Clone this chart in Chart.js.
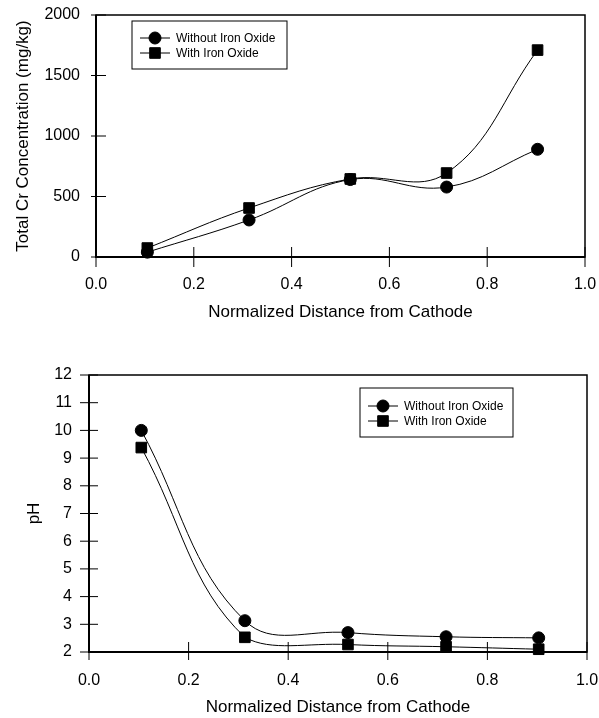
<!DOCTYPE html>
<html>
<head>
<meta charset="utf-8">
<script src="https://cdn.jsdelivr.net/npm/chart.js@4.4.1/dist/chart.umd.min.js"></script>
<style>
  body { margin: 0; background: #fff; }
  #wrap { position: relative; width: 599px; height: 718px; }
  .panel { position: absolute; left: 0; width: 599px; }
  #crPanel { top: 0; height: 330px; }
  #phPanel { top: 330px; height: 388px; }
</style>
</head>
<body>
<div id="wrap">
  <div class="panel" id="crPanel"><canvas id="crChart" width="599" height="330"></canvas></div>
  <div class="panel" id="phPanel"><canvas id="phChart" width="599" height="388"></canvas></div>
</div>
<script>
// values
const distances = [0.105, 0.313, 0.52, 0.717, 0.903];
const seriesNames = ['Without Iron Oxide', 'With Iron Oxide'];
const crWithout = [40, 306, 640, 578, 890];
const crWith = [74, 405, 645, 694, 1710];
const phWithout = [10.0, 3.13, 2.7, 2.55, 2.51];
const phWith = [9.38, 2.53, 2.27, 2.19, 2.1];
const xTitle = 'Normalized Distance from Cathode';

const FONT = "'Liberation Sans', Arial, sans-serif";
Chart.defaults.color = '#000';
Chart.defaults.font.family = FONT;

// box around the plot + tick marks that cross the axes
const frameTicks = {
    id: 'frameTicks',
    beforeDatasetsDraw(chart, args, opts) {
        const { ctx, chartArea: a } = chart;
        const xs = chart.scales.x, ys = chart.scales.y;
        ctx.save();
        ctx.strokeStyle = '#000';
        ctx.lineWidth = 1.5;
        ctx.strokeRect(a.left, a.top, a.right - a.left, a.bottom - a.top);
        ctx.lineWidth = 2;
        ctx.beginPath();
        ctx.moveTo(a.left, a.top);
        ctx.lineTo(a.left, a.bottom);
        ctx.lineTo(a.right, a.bottom);
        ctx.stroke();
        ctx.lineWidth = 1;
        ctx.beginPath();
        xs.ticks.forEach((t, i) => {
            const px = xs.getPixelForTick(i);
            ctx.moveTo(px, a.bottom - opts.xIn);
            ctx.lineTo(px, a.bottom + opts.xOut);
        });
        ys.ticks.forEach((t, i) => {
            const py = ys.getPixelForTick(i);
            ctx.moveTo(a.left - opts.yOut, py);
            ctx.lineTo(a.left + opts.yIn, py);
        });
        ctx.stroke();
        ctx.restore();
    }
};

// legend drawn as a framed box inside the plot
const boxLegend = {
    id: 'boxLegend',
    afterDraw(chart, args, opts) {
        const { ctx, chartArea: a } = chart;
        const x0 = a.left + opts.left, y0 = a.top + opts.top;
        ctx.save();
        ctx.fillStyle = '#fff';
        ctx.fillRect(x0, y0, opts.width, opts.height);
        ctx.strokeStyle = '#000';
        ctx.lineWidth = 1;
        ctx.strokeRect(x0, y0, opts.width, opts.height);
        const items = chart.data.datasets.filter(d => d.showInLegend);
        items.forEach((d, i) => {
            const y = y0 + opts.firstRow + i * opts.rowGap;
            ctx.strokeStyle = '#000';
            ctx.fillStyle = '#000';
            ctx.lineWidth = 1;
            ctx.beginPath();
            ctx.moveTo(x0 + 8, y);
            ctx.lineTo(x0 + 38, y);
            ctx.stroke();
            Chart.helpers.drawPoint(ctx, { pointStyle: d.pointStyle, radius: d.pointRadius, rotation: 0, borderWidth: 1 }, x0 + 23, y);
            ctx.font = '12px ' + FONT;
            ctx.textBaseline = 'middle';
            ctx.textAlign = 'left';
            ctx.fillText(d.label, x0 + 44, y + 1);
        });
        ctx.restore();
    }
};

const seriesDatasets = (label, values, style, radius) => {
    const pts = distances.map((x, i) => ({ x: x, y: values[i] }));
    return [
        { label: label, data: pts, borderColor: '#000', borderWidth: 1, pointRadius: 0, tension: 0.4, fill: false },
        { label: label, data: pts, showLine: false, pointStyle: style, pointRadius: radius,
          backgroundColor: '#000', borderColor: '#000', borderWidth: 1, clip: false, showInLegend: true }
    ];
};

const makeScales = (o) => ({
    x: {
        type: 'linear', min: 0, max: 1,
        afterFit: (s) => { s.height = o.xHeight; s.paddingLeft = 0; s.paddingRight = 0; },
        grid: { display: false, drawTicks: false }, border: { display: false },
        ticks: { stepSize: 0.2, padding: o.xPad, autoSkip: false, maxRotation: 0,
                 font: { size: 16 }, callback: (v) => v.toFixed(1) },
        title: { display: true, text: xTitle, font: { size: 17 }, padding: { top: 0, bottom: o.xTitlePad } }
    },
    y: {
        type: 'linear', min: o.yMin, max: o.yMax,
        afterFit: (s) => { s.width = o.yWidth; s.paddingTop = 0; s.paddingBottom = 0; },
        grid: { display: false, drawTicks: false }, border: { display: false },
        ticks: { stepSize: o.yStep, padding: o.yPad, autoSkip: false, font: { size: 16 },
                 callback: (v) => String(v) },
        title: { display: true, text: o.yTitle, font: { size: 17 }, padding: { top: o.yTitlePad, bottom: 0 } }
    }
});

new Chart(document.getElementById('crChart'), {
    type: 'line',
    data: {
        datasets: [
            ...seriesDatasets(seriesNames[0], crWithout, 'circle', 6),
            ...seriesDatasets(seriesNames[1], crWith, 'rect', 7.5)
        ]
    },
    options: {
        responsive: false,
        animation: false,
        layout: { padding: { left: 0, top: 15, right: 14, bottom: 0 } },
        scales: makeScales({ xHeight: 73, xPad: 18, xTitlePad: 7, yWidth: 96, yPad: 16, yTitlePad: 13,
                             yMin: 0, yMax: 2000, yStep: 500, yTitle: 'Total Cr Concentration (mg/kg)' }),
        plugins: {
            legend: { display: false },
            tooltip: { enabled: false },
            frameTicks: { xIn: 10, xOut: 10, yIn: 10, yOut: 5 },
            boxLegend: { left: 36, top: 6, width: 155, height: 48, firstRow: 17, rowGap: 15 }
        }
    },
    plugins: [frameTicks, boxLegend]
});

new Chart(document.getElementById('phChart'), {
    type: 'line',
    data: {
        datasets: [
            ...seriesDatasets(seriesNames[0], phWithout, 'circle', 6),
            ...seriesDatasets(seriesNames[1], phWith, 'rect', 7.5)
        ]
    },
    options: {
        responsive: false,
        animation: false,
        layout: { padding: { left: 0, top: 45, right: 12, bottom: 0 } },
        scales: makeScales({ xHeight: 66, xPad: 19, xTitlePad: 0, yWidth: 89, yPad: 17, yTitlePad: 24,
                             yMin: 2, yMax: 12, yStep: 1, yTitle: 'pH' }),
        plugins: {
            legend: { display: false },
            tooltip: { enabled: false },
            frameTicks: { xIn: 10, xOut: 8, yIn: 9, yOut: 9 },
            boxLegend: { left: 271, top: 13, width: 153, height: 49, firstRow: 18, rowGap: 15 }
        }
    },
    plugins: [frameTicks, boxLegend]
});
</script>
</body>
</html>
